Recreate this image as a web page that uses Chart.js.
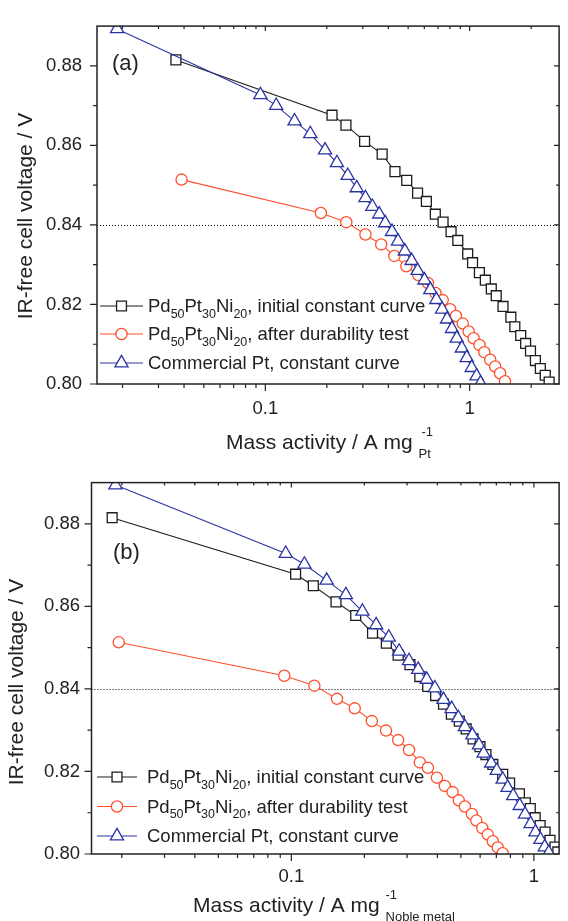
<!DOCTYPE html>
<html>
<head>
<meta charset="utf-8">
<script src="https://cdn.jsdelivr.net/npm/chart.js@4.4.1/dist/chart.umd.min.js"></script>
<style>
  html, body { margin: 0; padding: 0; background: #fff; }
  #wrap { position: relative; width: 568px; height: 921px; overflow: hidden; }
  canvas { position: absolute; left: 0; }
</style>
</head>
<body>
<div id="wrap">
  <canvas id="chartA" width="568" height="470" style="top:0"></canvas>
  <canvas id="chartB" width="568" height="461" style="top:460px"></canvas>
</div>
<script>
// panel (a) - mass activity per mg Pt
const initialA_x = [0.0365, 0.212, 0.248, 0.306, 0.373, 0.431, 0.492, 0.556, 0.614, 0.679, 0.741, 0.811, 0.875, 0.978, 1.033, 1.116, 1.193, 1.276, 1.349, 1.456, 1.591, 1.664, 1.778, 1.879, 1.985, 2.098, 2.218, 2.344, 2.449];
const initialA_y = [0.8815, 0.8676, 0.8651, 0.8610, 0.8578, 0.8534, 0.8512, 0.8480, 0.8459, 0.8427, 0.8407, 0.8383, 0.8361, 0.8327, 0.8305, 0.8280, 0.8261, 0.8239, 0.8222, 0.8195, 0.8168, 0.8144, 0.8122, 0.8102, 0.8083, 0.8059, 0.8039, 0.8022, 0.8005];
const afterA_x = [0.0389, 0.187, 0.249, 0.309, 0.369, 0.428, 0.490, 0.560, 0.625, 0.680, 0.738, 0.802, 0.857, 0.925, 0.989, 1.045, 1.117, 1.180, 1.261, 1.333, 1.409, 1.489];
const afterA_y = [0.8514, 0.8430, 0.8407, 0.8376, 0.8351, 0.8322, 0.8296, 0.8274, 0.8254, 0.8229, 0.8211, 0.8188, 0.8171, 0.8152, 0.8132, 0.8115, 0.8098, 0.8080, 0.8061, 0.8044, 0.8027, 0.8007];
const ptA_x = [0.0188, 0.0946, 0.113, 0.139, 0.166, 0.196, 0.224, 0.253, 0.280, 0.309, 0.334, 0.361, 0.386, 0.417, 0.446, 0.482, 0.520, 0.556, 0.601, 0.642, 0.687, 0.733, 0.775, 0.819, 0.865, 0.916, 0.968, 1.023, 1.081, 1.130];
const ptA_y = [0.8893, 0.8727, 0.8700, 0.8661, 0.8629, 0.8588, 0.8556, 0.8524, 0.8493, 0.8468, 0.8446, 0.8427, 0.8405, 0.8383, 0.8359, 0.8334, 0.8310, 0.8285, 0.8261, 0.8237, 0.8212, 0.8188, 0.8163, 0.8139, 0.8115, 0.8090, 0.8066, 0.8041, 0.8020, 0.8002];

// panel (b) - mass activity per mg noble metal
const initialB_x = [0.01825, 0.1041, 0.1232, 0.1528, 0.1842, 0.2161, 0.2464, 0.2756, 0.3083, 0.3386, 0.3649, 0.3933, 0.4239, 0.4568, 0.4924, 0.5256, 0.5613, 0.5993, 0.6339, 0.6769, 0.7435, 0.7939, 0.8715, 0.9218, 0.9660, 1.012, 1.061, 1.112, 1.165, 1.221, 1.255];
const initialB_y = [0.8815, 0.8678, 0.8650, 0.8611, 0.8578, 0.8535, 0.8511, 0.8482, 0.8459, 0.8430, 0.8406, 0.8384, 0.8363, 0.8339, 0.8322, 0.8303, 0.8279, 0.8260, 0.8241, 0.8217, 0.8193, 0.8172, 0.8146, 0.8124, 0.8110, 0.8088, 0.8069, 0.8053, 0.8033, 0.8017, 0.8005];
const afterB_x = [0.01943, 0.0935, 0.1244, 0.1542, 0.1825, 0.2147, 0.2456, 0.2756, 0.3055, 0.3386, 0.3656, 0.3981, 0.4291, 0.4620, 0.4900, 0.5193, 0.5550, 0.5789, 0.6123, 0.6456, 0.6769, 0.7093, 0.7435];
const afterB_y = [0.8513, 0.8432, 0.8408, 0.8376, 0.8353, 0.8322, 0.8299, 0.8276, 0.8252, 0.8222, 0.8209, 0.8185, 0.8165, 0.8150, 0.8130, 0.8115, 0.8097, 0.8081, 0.8063, 0.8047, 0.8031, 0.8016, 0.8002];
const ptB_x = [0.01883, 0.0948, 0.1132, 0.1398, 0.1678, 0.1963, 0.2237, 0.2521, 0.2781, 0.3055, 0.3333, 0.3615, 0.3906, 0.4239, 0.4581, 0.4878, 0.5193, 0.5576, 0.5936, 0.6202, 0.6663, 0.7027, 0.7435, 0.7789, 0.8213, 0.8739, 0.9193, 0.9687, 1.015, 1.064, 1.108, 1.151];
const ptB_y = [0.8894, 0.8728, 0.8702, 0.8663, 0.8628, 0.8588, 0.8555, 0.8525, 0.8491, 0.8468, 0.8447, 0.8423, 0.8402, 0.8374, 0.8352, 0.8330, 0.8308, 0.8288, 0.8264, 0.8244, 0.8220, 0.8202, 0.8181, 0.8161, 0.8141, 0.8117, 0.8096, 0.8073, 0.8053, 0.8035, 0.8017, 0.8003];

// axes
const xLabels = [0.1, 1];
const yLabels = [0.80, 0.82, 0.84, 0.86, 0.88];
const yMin = 0.80, yMax = 0.89, yStep = 0.01;
const refVoltage = 0.84;

// legend text, [text, isSubscript]
const legendRows = [
  [['Pd', 0], ['50', 1], ['Pt', 0], ['30', 1], ['Ni', 0], ['20', 1], [', initial constant curve', 0]],
  [['Pd', 0], ['50', 1], ['Pt', 0], ['30', 1], ['Ni', 0], ['20', 1], [', after durability test', 0]],
  [['Commercial Pt, constant curve', 0]]
];
const yTitle = 'IR-free cell voltage / V';
const xTitle = 'Mass activity / A mg';

const FONT = '"Liberation Sans", Arial, Helvetica, sans-serif';
const BLACK = '#1c1c1c', RED = '#ff4f2a', BLUE = '#2a34a3', AXIS = '#222';
const STYLES = [
  { color: BLACK, style: 'rect', r: 7 },
  { color: RED, style: 'circle', r: 5.6 },
  { color: BLUE, style: 'triangle', r: 7.6 }
];

Chart.defaults.font.family = FONT;

function logTicks(min, max) {
  const out = [];
  for (let e = -2; e <= 1; e++) {
    for (let k = 1; k <= 9; k++) {
      const v = parseFloat((k * Math.pow(10, e)).toPrecision(3));
      if (v >= min && v <= max) out.push({ value: v });
    }
  }
  return out;
}

function yTicks() {
  const out = [];
  for (let v = yMin; v <= yMax + 1e-9; v += yStep) out.push({ value: Math.round(v * 100) / 100 });
  return out;
}

function isLabelled(list, v) {
  return list.some(l => Math.abs(l - v) < 1e-9);
}

function drawRuns(ctx, x, y, runs, size, subSize, subDy) {
  runs.forEach(([text, sub]) => {
    ctx.font = (sub ? subSize : size) + 'px ' + FONT;
    ctx.fillText(text, x, y + (sub ? subDy : 0));
    x += ctx.measureText(text).width;
  });
}

function makeDeco(p) {
  return {
    id: 'deco',
    beforeDatasetsDraw(chart) {
      const { ctx, chartArea: a, scales: { y } } = chart;
      const py = Math.round(y.getPixelForValue(refVoltage)) + 0.5;
      ctx.save();
      ctx.strokeStyle = '#000';
      ctx.lineWidth = 1;
      ctx.setLineDash([1, 2]);
      ctx.beginPath();
      ctx.moveTo(a.left, py);
      ctx.lineTo(a.right, py);
      ctx.stroke();
      ctx.restore();
    },
    afterDraw(chart) {
      const { ctx, chartArea: a, scales: { x, y } } = chart;
      ctx.save();
      ctx.strokeStyle = AXIS;
      ctx.lineWidth = 1.5;
      ctx.strokeRect(a.left, a.top, a.right - a.left, a.bottom - a.top);

      ctx.lineWidth = 1.2;
      ctx.beginPath();
      x.ticks.forEach(t => {
        const px = x.getPixelForValue(t.value);
        if (px < a.left + 1 || px > a.right - 1) return;
        const major = isLabelled(xLabels, t.value);
        ctx.moveTo(px, a.bottom);
        ctx.lineTo(px, a.bottom + (major ? 7 : 4));
        ctx.moveTo(px, a.top);
        ctx.lineTo(px, a.top + (major ? 5 : 3));
      });
      y.ticks.forEach(t => {
        const py = y.getPixelForValue(t.value);
        if (py < a.top + 1) return;
        const major = isLabelled(yLabels, t.value);
        ctx.moveTo(a.left, py);
        ctx.lineTo(a.left - (major ? 7 : 4), py);
        ctx.moveTo(a.right, py);
        ctx.lineTo(a.right - (major ? 5 : 3), py);
      });
      ctx.stroke();

      // panel letter
      ctx.fillStyle = '#222';
      ctx.textBaseline = 'middle';
      ctx.textAlign = 'left';
      ctx.font = '22px ' + FONT;
      ctx.fillText(p.letter, p.letterX, p.letterY);

      // y title
      ctx.save();
      ctx.translate(p.yTitleX, p.yTitleY);
      ctx.rotate(-Math.PI / 2);
      ctx.textAlign = 'center';
      ctx.font = '21px ' + FONT;
      ctx.fillText(yTitle, 0, 0);
      ctx.restore();

      // x title with superscript and subscript
      ctx.textBaseline = 'alphabetic';
      ctx.font = '21px ' + FONT;
      ctx.fillText(xTitle, p.xTitleX, p.xTitleY);
      const end = p.xTitleX + ctx.measureText(xTitle + ' ').width;
      ctx.font = '13px ' + FONT;
      ctx.fillText('-1', end + p.supDx, p.xTitleY - 13);
      ctx.fillText(p.xSub, end, p.xTitleY + 9);

      // legend
      legendRows.forEach((runs, i) => {
        const s = STYLES[i];
        const ly = p.legendY[i];
        ctx.strokeStyle = s.color;
        ctx.lineWidth = 1.1;
        ctx.beginPath();
        ctx.moveTo(p.legendX0, ly);
        ctx.lineTo(p.legendX1, ly);
        ctx.stroke();
        ctx.fillStyle = '#fff';
        ctx.lineWidth = 1.3;
        Chart.helpers.drawPoint(ctx, { pointStyle: s.style, radius: s.r, borderWidth: 1.3, rotation: 0 },
          (p.legendX0 + p.legendX1) / 2, ly);
        ctx.fillStyle = '#222';
        drawRuns(ctx, p.legendText, ly + 6, runs, 18.5, 12.5, 5.5);
      });
      ctx.restore();
    }
  };
}

function series(xs, ys, s, order) {
  return {
    data: xs.map((v, i) => ({ x: v, y: ys[i] })),
    showLine: true,
    borderColor: s.color,
    borderWidth: 1.1,
    pointStyle: s.style,
    pointRadius: s.r,
    pointBorderColor: s.color,
    pointBorderWidth: 1.3,
    pointBackgroundColor: '#fff',
    order: order
  };
}

function buildChart(id, sets, p) {
  return new Chart(document.getElementById(id), {
    type: 'scatter',
    data: {
      datasets: [
        series(sets[0], sets[1], STYLES[0], 2),
        series(sets[2], sets[3], STYLES[1], 1),
        series(sets[4], sets[5], STYLES[2], 0)
      ]
    },
    options: {
      responsive: false,
      animation: false,
      events: [],
      layout: { padding: { top: p.top, right: 1, left: 0, bottom: 0 } },
      plugins: { legend: { display: false }, tooltip: { enabled: false } },
      scales: {
        x: {
          type: 'logarithmic',
          min: p.xMin,
          max: p.xMax,
          afterBuildTicks: s => { s.ticks = logTicks(p.xMin, p.xMax); },
          afterFit: s => { s.height = p.xAxisHeight; },
          grid: { display: false, drawTicks: false },
          border: { display: false },
          ticks: {
            autoSkip: false, maxRotation: 0, padding: p.xTickPad, color: '#222',
            font: { size: 18.5 },
            callback: v => isLabelled(xLabels, v) ? String(v) : ''
          }
        },
        y: {
          min: yMin,
          max: yMax,
          afterBuildTicks: s => { s.ticks = yTicks(); },
          afterFit: s => { s.width = p.yAxisWidth; },
          grid: { display: false, drawTicks: false },
          border: { display: false },
          ticks: {
            autoSkip: false, padding: p.yTickPad, color: '#222',
            font: { size: 18.5 },
            callback: v => isLabelled(yLabels, v) ? v.toFixed(2) : ''
          }
        }
      }
    },
    plugins: [makeDeco(p)]
  });
}

buildChart('chartA', [initialA_x, initialA_y, afterA_x, afterA_y, ptA_x, ptA_y], {
  top: 15, xMin: 0.015, xMax: 2.74, xAxisHeight: 86, yAxisWidth: 97,
  xTickPad: 14, yTickPad: 15,
  letter: '(a)', letterX: 112, letterY: 64,
  yTitleX: 26, yTitleY: 216,
  xTitleX: 226, xTitleY: 449, xSub: 'Pt', supDx: 3,
  legendY: [306, 334, 363], legendX0: 100, legendX1: 143, legendText: 148
});

buildChart('chartB', [initialB_x, initialB_y, afterB_x, afterB_y, ptB_x, ptB_y], {
  top: 17, xMin: 0.015, xMax: 1.27, xAxisHeight: 67, yAxisWidth: 91.5,
  xTickPad: 12, yTickPad: 11.5,
  letter: '(b)', letterX: 113, letterY: 93,
  yTitleX: 17, yTitleY: 222,
  xTitleX: 193, xTitleY: 452, xSub: 'Noble metal', supDx: 0,
  legendY: [317, 346.5, 376], legendX0: 97, legendX1: 137, legendText: 147
});
</script>
</body>
</html>
